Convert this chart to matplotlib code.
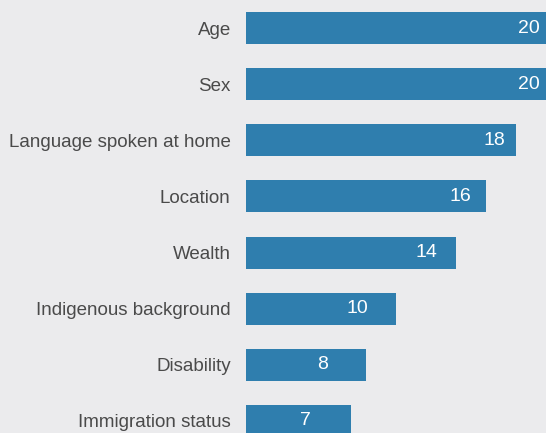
import numpy as np
import matplotlib.pyplot as plt

plt.rcParams['font.family'] = ['Liberation Sans', 'DejaVu Sans']

categories = ['Age', 'Sex', 'Language spoken at home', 'Location', 'Wealth',
              'Indigenous background', 'Disability', 'Immigration status']
values = [20, 20, 18, 16, 14, 10, 8, 7]

bg = '#ebebed'
bar_color = '#2f7eae'

fig = plt.figure(figsize=(5.46, 4.33), dpi=100, facecolor=bg)
ax = fig.add_axes([246 / 546, 0, 300 / 546, 1])
ax.set_facecolor(bg)

y = np.arange(len(categories))
ax.barh(y, values, height=32 / 56, color=bar_color)

# value labels sit inside the bars, drifting left for shorter bars
for yi, v in zip(y, values):
    ax.text(1.147 * v - 4.06, yi, str(v), color='white', fontsize=14,
            ha='center', va='center')

ax.set_xlim(0, 20)
ax.set_ylim(len(categories) - 1 + 12 / 56, -0.5)
ax.set_yticks(y)
ax.set_yticklabels(categories, fontsize=13.5, color='#4a4a4a')
ax.tick_params(axis='y', length=0, pad=11)
ax.set_xticks([])
for s in ax.spines.values():
    s.set_visible(False)

fig.savefig('out.png', dpi=100, facecolor=bg)
